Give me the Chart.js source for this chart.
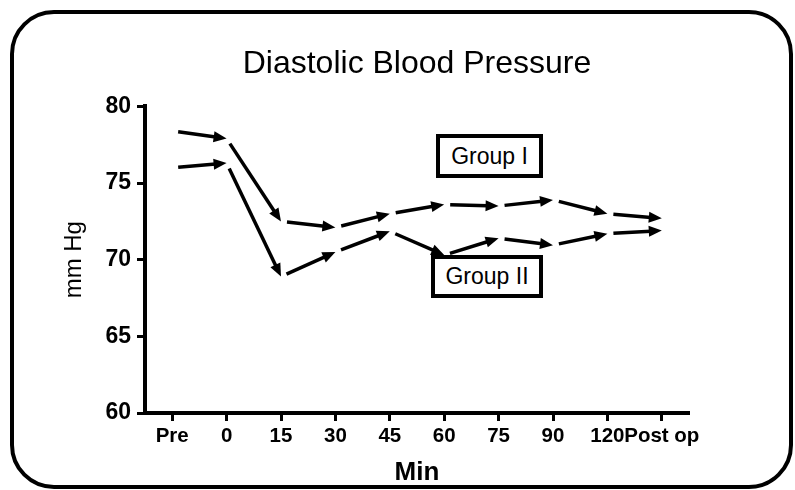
<!DOCTYPE html>
<html>
<head>
<meta charset="utf-8">
<script src="https://cdn.jsdelivr.net/npm/chart.js@4.4.1/dist/chart.umd.min.js"></script>
<style>
  html, body { margin: 0; padding: 0; background: #fff; }
  #wrap { position: relative; width: 795px; height: 490px; overflow: hidden; }
  #frame {
    position: absolute; left: 10px; top: 10px; width: 783px; height: 479px;
    box-sizing: border-box; border: 4px solid #000; border-radius: 44px;
  }
  .tag {
    position: absolute; box-sizing: border-box; border: 4px solid #000; background: #fff;
    font: 23px "Liberation Sans", Arial, sans-serif; color: #000;
    display: flex; align-items: center; justify-content: center;
  }
  #g1 { left: 436px; top: 134px; width: 107px; height: 44px; }
  #g2 { left: 431px; top: 255px; width: 112px; height: 43px; }
</style>
</head>
<body>
<div id="wrap">
  <div id="frame"></div>
  <canvas id="bp"></canvas>
  <div class="tag" id="g1">Group I</div>
  <div class="tag" id="g2">Group II</div>
</div>
<script>
// Diastolic blood pressure, mm Hg
const timeLabels = ['Pre', '0', '15', '30', '45', '60', '75', '90', '120', 'Post op'];
const groupOne   = [78.4, 77.9, 72.5, 72.1, 73.0, 73.6, 73.5, 73.9, 73.0, 72.7];
const groupTwo   = [76.0, 76.3, 68.9, 70.5, 71.85, 70.3, 71.4, 70.95, 71.7, 71.9];
const yTicks     = [60, 65, 70, 75, 80];

const FONT = '"Liberation Sans", Arial, sans-serif';

// each step between two readings is drawn as an arrow, with a small gap after the start point
const arrowLines = {
  id: 'arrowLines',
  afterDatasetsDraw(chart) {
    const ctx = chart.ctx;
    const GAP = 6, HEAD = 13, HALF = 5.5;
    chart.data.datasets.forEach((ds, i) => {
      const pts = chart.getDatasetMeta(i).data;
      ctx.save();
      ctx.strokeStyle = '#000';
      ctx.fillStyle = '#000';
      ctx.lineWidth = 3.5;
      ctx.lineCap = 'butt';
      for (let k = 1; k < pts.length; k++) {
        const a = pts[k - 1], b = pts[k];
        const dx = b.x - a.x, dy = b.y - a.y;
        const len = Math.hypot(dx, dy);
        const ux = dx / len, uy = dy / len;
        const hx = b.x - ux * HEAD, hy = b.y - uy * HEAD;
        ctx.beginPath();
        ctx.moveTo(a.x + ux * GAP, a.y + uy * GAP);
        ctx.lineTo(hx + ux * 2, hy + uy * 2);
        ctx.stroke();
        ctx.beginPath();
        ctx.moveTo(b.x, b.y);
        ctx.lineTo(hx - uy * HALF, hy + ux * HALF);
        ctx.lineTo(hx + uy * HALF, hy - ux * HALF);
        ctx.closePath();
        ctx.fill();
      }
      ctx.restore();
    });
  },
};

const axisGrid = { drawOnChartArea: false, drawTicks: true, tickLength: 8, tickWidth: 3, tickColor: '#000' };
const axisLine = { display: true, color: '#000', width: 4 };

new Chart(document.getElementById('bp'), {
  type: 'line',
  data: {
    labels: timeLabels,
    datasets: [
      { label: 'Group I',  data: groupOne, showLine: false, pointRadius: 0 },
      { label: 'Group II', data: groupTwo, showLine: false, pointRadius: 0 },
    ],
  },
  options: {
    responsive: true,
    maintainAspectRatio: false,
    animation: false,
    events: [],
    layout: { padding: { left: 0, right: 106, top: 30, bottom: 0 } },
    plugins: {
      legend: { display: false },
      tooltip: { enabled: false },
      title: {
        display: true,
        fullSize: false,
        text: 'Diastolic Blood Pressure',
        color: '#000',
        font: { family: FONT, size: 32, weight: 'normal' },
        padding: { top: 15, bottom: 23 },
      },
    },
    scales: {
      x: {
        offset: true,
        grid: { ...axisGrid, offset: false },
        border: axisLine,
        ticks: {
          color: '#000', font: { family: FONT, size: 20.5, weight: 'bold' },
          padding: 3, maxRotation: 0, autoSkip: false,
        },
        title: {
          display: true, text: 'Min', color: '#000',
          font: { family: FONT, size: 26, weight: 'bold' },
          padding: { top: 2, bottom: 2 },
        },
        afterFit: (s) => { s.height = 77; },
      },
      y: {
        min: yTicks[0],
        max: yTicks[yTicks.length - 1],
        afterBuildTicks: (s) => { s.ticks = yTicks.map((v) => ({ value: v })); },
        grid: axisGrid,
        border: axisLine,
        ticks: { color: '#000', font: { family: FONT, size: 23, weight: 'bold' }, padding: 6 },
        title: {
          display: true, text: 'mm Hg', color: '#000',
          font: { family: FONT, size: 24, weight: 'normal' },
          padding: { top: 60, bottom: 0 },
        },
        afterFit: (s) => { s.width = 145; },
      },
    },
  },
  plugins: [arrowLines],
});
</script>
</body>
</html>
